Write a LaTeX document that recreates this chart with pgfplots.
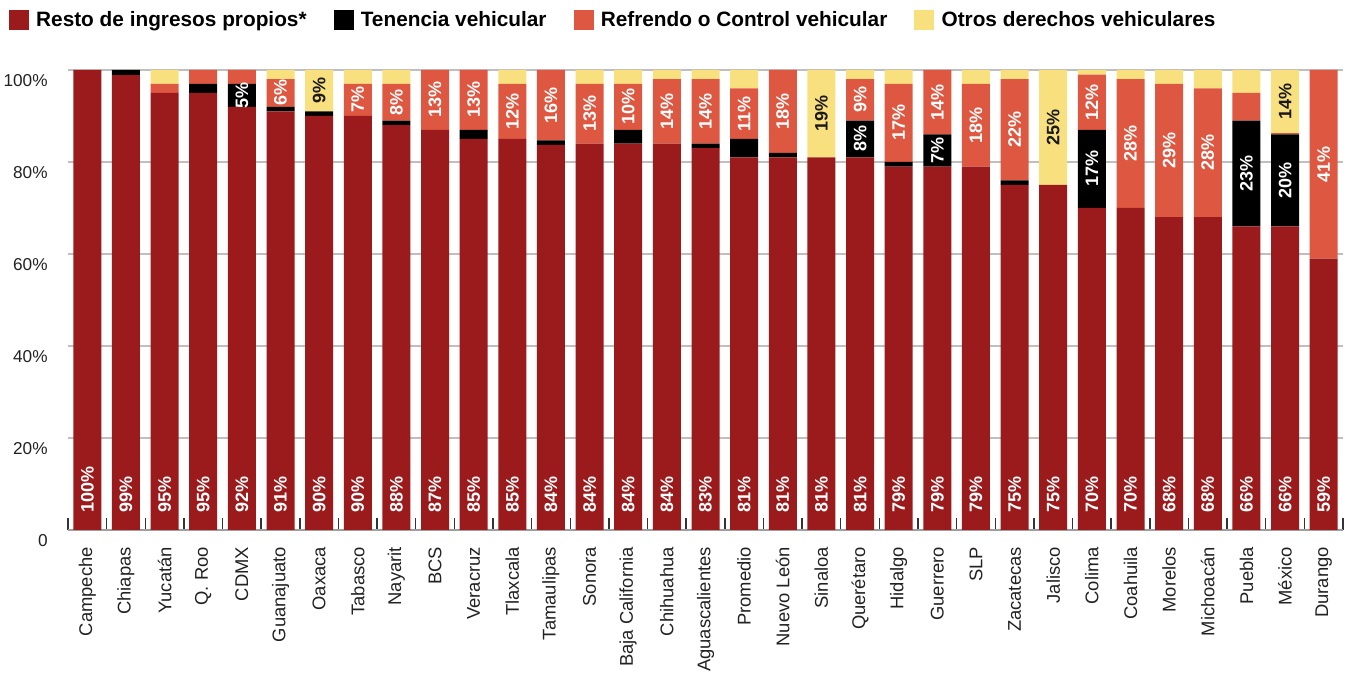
\documentclass[border=0pt]{standalone}
\usepackage{fontspec}
\setmainfont{Liberation Sans}
\usepackage{pgfplots}
\pgfplotsset{compat=1.18}
\usepackage{pgfplotstable}

\definecolor{cresto}{HTML}{9B1A1C}
\definecolor{cten}{HTML}{000000}
\definecolor{cref}{HTML}{DE5741}
\definecolor{cotr}{HTML}{F9E07F}
\definecolor{ctxt}{HTML}{222222}

\pgfplotstableread{
x resto ten ref otr lr lt lf lo
0 100 0 0 0 100 0 0 0
1 98.9 1.1 0 0 99 0 0 0
2 95 0 2 3 95 0 0 0
3 95 2 3 0 95 0 0 0
4 92 5 3 0 92 5 0 0
5 91 1 6 2 91 0 6 0
6 90 1 0 9 90 0 0 9
7 90 0 7 3 90 0 7 0
8 88 1 8 3 88 0 8 0
9 87 0 13 0 87 0 13 0
10 85 2 13 0 85 0 13 0
11 85 0 12 3 85 0 12 0
12 83.7 1 15.3 0 84 0 16 0
13 84 0 13 3 84 0 13 0
14 84 3 10 3 84 0 10 0
15 84 0 14 2 84 0 14 0
16 83 1 14 2 83 0 14 0
17 81 4 11 4 81 0 11 0
18 81 1 18 0 81 0 18 0
19 81 0 0 19 81 0 0 19
20 81 8 9 2 81 8 9 0
21 79 1 17 3 79 0 17 0
22 79 7 14 0 79 7 14 0
23 79 0 18 3 79 0 18 0
24 75 1 22 2 75 0 22 0
25 75 0 0 25 75 0 0 25
26 70 17 12 1 70 17 12 0
27 70 0 28 2 70 0 28 0
28 68 0 29 3 68 0 29 0
29 68 0 28 4 68 0 28 0
30 66 23 6 5 66 23 0 0
31 66 20 0.3 13.7 66 20 0 14
32 59 0 41 0 59 0 41 0
}\datos
% label positions: middle of each segment
\pgfplotstablecreatecol[create col/expr={\thisrow{resto}+\thisrow{ten}/2}]{pt}\datos
\pgfplotstablecreatecol[create col/expr={\thisrow{resto}+\thisrow{ten}+\thisrow{ref}/2}]{pf}\datos
\pgfplotstablecreatecol[create col/expr={\thisrow{resto}+\thisrow{ten}+\thisrow{ref}+\thisrow{otr}/2}]{po}\datos

\newcommand{\barlab}{\pgfmathfloatifflags{\pgfplotspointmeta}{0}{}{\pgfmathprintnumber[fixed,precision=0,assume math mode=true]{\pgfplotspointmeta}\%}}

\pgfplotsset{
  geom/.style={at={(34pt,71.5pt)}, anchor=south west,
    scale only axis, width=637.5pt, height=230pt,
    xmin=-0.5, xmax=32.5, ymin=0, ymax=100,
    enlarge x limits=false, enlarge y limits=false},
}

\begin{document}
\begin{tikzpicture}
\useasboundingbox (0,0) rectangle (673.5pt,336.5pt);
\begin{axis}[
  geom,
  ybar stacked, bar width=14pt,
  axis x line*=bottom, axis y line*=left,
  x axis line style={-, draw=gray!75, line width=1pt},
  y axis line style={draw=none},
  xtick={0,...,32},
  xticklabels={Campeche,Chiapas,Yucatán,Q. Roo,CDMX,Guanajuato,Oaxaca,Tabasco,Nayarit,BCS,Veracruz,Tlaxcala,Tamaulipas,Sonora,Baja California,Chihuahua,Aguascalientes,Promedio,Nuevo León,Sinaloa,Querétaro,Hidalgo,Guerrero,SLP,Zacatecas,Jalisco,Colima,Coahuila,Morelos,Michoacán,Puebla,México,Durango},
  xticklabel style={rotate=90, anchor=east, inner sep=0pt, text=ctxt, font=\fontsize{9.2}{10}\selectfont},
  xticklabel shift=8.35pt,
  minor xtick={-0.5,0.5,...,32.5},
  major tick length=0pt, minor tick length=6pt, tick align=inside,
  minor x tick style={draw=black!80, line width=0.75pt},
  ytick={0,20,40,60,80,100},
  yticklabels={0,20\%,40\%,60\%,80\%,100\%},
  yticklabel style={anchor=east, inner sep=0pt, yshift=-5.5pt, text=ctxt, font=\fontsize{8.6}{10}\selectfont},
  yticklabel shift=10pt,
  /pgf/number format/assume math mode=true,
  ymajorgrids, grid style={draw=gray!50, line width=0.75pt},
  legend columns=4,
  legend style={draw=none, fill=none, inner sep=0pt, outer sep=0pt,
    at={(-0.0463,1.1087)}, anchor=west,
    font=\bfseries\fontsize{10.4}{12}\selectfont,
    nodes={inner sep=0pt},
    /tikz/every odd column/.append style={column sep=3.6pt},
    /tikz/every even column/.append style={column sep=13.5pt}},
  legend cell align=left,
  legend image code/.code={\fill[#1,draw=none] (0pt,-5pt) rectangle (10pt,5pt);},
]
\addplot[fill=cresto, draw=none] table[x=x, y=resto]{\datos};
\addlegendentry{Resto de ingresos propios*}
\addplot[fill=cten, draw=none] table[x=x, y=ten]{\datos};
\addlegendentry{Tenencia vehicular}
\addplot[fill=cref, draw=none] table[x=x, y=ref]{\datos};
\addlegendentry{Refrendo o Control vehicular}
\addplot[fill=cotr, draw=none] table[x=x, y=otr]{\datos};
\addlegendentry{Otros derechos vehiculares}
\end{axis}
% value labels inside the bars
\begin{axis}[
  geom, hide axis,
  nodes near coords={\barlab},
  point meta=explicit,
  clip=false,
]
\addplot[draw=none, mark=none,
  every node near coord/.style={yshift=8.5pt, rotate=90, anchor=west, inner sep=0pt, text=white, font=\bfseries\fontsize{9}{10}\selectfont}]
  table[x=x, y expr=0, meta=lr]{\datos};
\addplot[draw=none, mark=none,
  every node near coord/.style={rotate=90, anchor=center, inner sep=0pt, text=white, font=\bfseries\fontsize{9}{10}\selectfont}]
  table[x=x, y=pt, meta=lt]{\datos};
\addplot[draw=none, mark=none,
  every node near coord/.style={rotate=90, anchor=center, inner sep=0pt, text=white, font=\bfseries\fontsize{9}{10}\selectfont}]
  table[x=x, y=pf, meta=lf]{\datos};
\addplot[draw=none, mark=none,
  every node near coord/.style={rotate=90, anchor=center, inner sep=0pt, text=black!90, font=\bfseries\fontsize{9}{10}\selectfont}]
  table[x=x, y=po, meta=lo]{\datos};
\end{axis}
\end{tikzpicture}
\end{document}
